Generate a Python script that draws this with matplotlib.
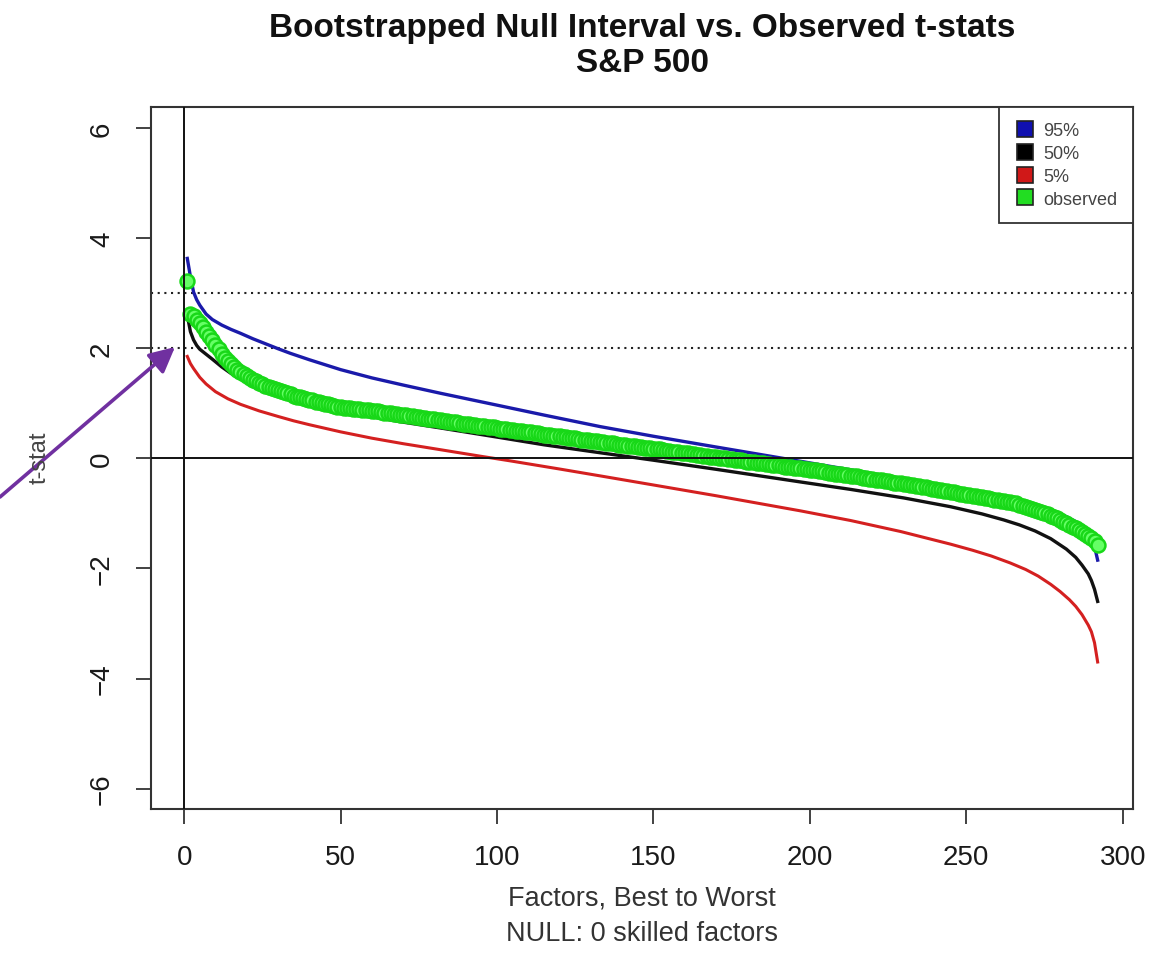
import matplotlib
matplotlib.use("Agg")
import matplotlib.pyplot as plt
from matplotlib.lines import Line2D

plt.rcParams['font.family'] = ['Liberation Sans', 'DejaVu Sans']

# quantile curves of the bootstrapped null
blue_x = [1, 2, 3, 4, 5, 7, 9, 12, 15, 18, 22, 26, 30, 34, 40, 50, 60, 70, 82, 100,
          115, 133, 150, 170, 197, 213, 230, 245, 260, 267, 272, 277, 282, 285, 287, 289,
          290, 291, 292]
blue_y = [3.63, 3.30, 3.02, 2.88, 2.78, 2.62, 2.52, 2.42, 2.34, 2.27, 2.17, 2.08, 1.99, 1.905,
          1.79, 1.61, 1.46, 1.33, 1.18, 0.965, 0.785, 0.575, 0.40, 0.205, -0.055, -0.21,
          -0.375, -0.525, -0.69, -0.77, -0.84, -0.93, -1.06, -1.15, -1.24, -1.36, -1.45,
          -1.60, -1.85]

black_x = [1, 2, 3, 4, 5, 7, 9, 12, 15, 18, 22, 26, 30, 35, 40, 50, 60, 69, 82, 100,
           115, 133, 150, 170, 197, 213, 230, 245, 255, 262, 267, 272, 277, 282, 285, 287,
           289, 290, 291, 292]
black_y = [2.60, 2.30, 2.15, 2.05, 1.98, 1.89, 1.80, 1.66, 1.54, 1.44, 1.34, 1.25, 1.17, 1.08,
           1.01, 0.88, 0.76, 0.665, 0.55, 0.385, 0.245, 0.10, -0.035, -0.20, -0.43, -0.565,
           -0.72, -0.88, -1.01, -1.12, -1.21, -1.32, -1.46, -1.65, -1.80, -1.94, -2.10,
           -2.22, -2.38, -2.60]

red_x = [1, 2, 3, 5, 7, 10, 14, 18, 24, 30, 35, 40, 50, 60, 70, 82, 95, 104, 120, 133,
         150, 170, 197, 213, 229, 245, 252, 258, 264, 269, 273, 277, 280, 283, 285, 287,
         289, 290, 291, 292]
red_y = [1.85, 1.72, 1.63, 1.47, 1.35, 1.21, 1.08, 0.98, 0.86, 0.76, 0.68, 0.61, 0.48, 0.365,
         0.265, 0.155, 0.035, -0.045, -0.195, -0.32, -0.485, -0.68, -0.955, -1.13, -1.33,
         -1.56, -1.67, -1.775, -1.90, -2.02, -2.14, -2.29, -2.42, -2.57, -2.69, -2.84,
         -3.03, -3.15, -3.35, -3.70]

# observed t-stats, factors 1..292 sorted best to worst
observed = [
    3.22, 2.62, 2.58, 2.52, 2.45, 2.38, 2.30, 2.22, 2.14, 2.06,
    1.98, 1.90, 1.83, 1.77, 1.71, 1.66, 1.61, 1.57, 1.53, 1.49,
    1.46, 1.43, 1.40, 1.37, 1.35, 1.32, 1.30, 1.28, 1.26, 1.24,
    1.22, 1.20, 1.18, 1.16, 1.14, 1.12, 1.11, 1.09, 1.08, 1.06,
    1.05, 1.03, 1.02, 1.00, 0.99, 0.98, 0.97, 0.95, 0.94, 0.93,
    0.92, 0.92, 0.91, 0.90, 0.90, 0.89, 0.88, 0.87, 0.87, 0.86,
    0.85, 0.85, 0.84, 0.83, 0.82, 0.82, 0.81, 0.80, 0.79, 0.79,
    0.78, 0.77, 0.76, 0.75, 0.75, 0.74, 0.73, 0.72, 0.71, 0.71,
    0.70, 0.69, 0.68, 0.67, 0.66, 0.66, 0.65, 0.64, 0.63, 0.62,
    0.62, 0.61, 0.60, 0.59, 0.59, 0.58, 0.57, 0.56, 0.56, 0.55,
    0.54, 0.53, 0.53, 0.52, 0.51, 0.50, 0.50, 0.49, 0.48, 0.47,
    0.47, 0.46, 0.45, 0.44, 0.43, 0.43, 0.42, 0.41, 0.40, 0.40,
    0.39, 0.38, 0.37, 0.37, 0.36, 0.35, 0.34, 0.34, 0.33, 0.32,
    0.31, 0.31, 0.30, 0.29, 0.28, 0.28, 0.27, 0.26, 0.25, 0.25,
    0.24, 0.23, 0.22, 0.22, 0.21, 0.20, 0.19, 0.19, 0.18, 0.17,
    0.16, 0.16, 0.15, 0.14, 0.13, 0.12, 0.12, 0.11, 0.10, 0.09,
    0.09, 0.08, 0.07, 0.06, 0.06, 0.05, 0.04, 0.03, 0.03, 0.02,
    0.01, 0.00, 0.00, -0.01, -0.02, -0.03, -0.03, -0.04, -0.05, -0.06,
    -0.06, -0.07, -0.08, -0.09, -0.09, -0.10, -0.11, -0.12, -0.12, -0.13,
    -0.14, -0.15, -0.15, -0.16, -0.17, -0.18, -0.18, -0.19, -0.20, -0.21,
    -0.22, -0.22, -0.23, -0.24, -0.25, -0.26, -0.27, -0.28, -0.28, -0.29,
    -0.30, -0.31, -0.32, -0.33, -0.33, -0.34, -0.35, -0.36, -0.37, -0.38,
    -0.39, -0.39, -0.40, -0.41, -0.42, -0.43, -0.44, -0.45, -0.45, -0.46,
    -0.47, -0.48, -0.49, -0.50, -0.51, -0.52, -0.53, -0.54, -0.55, -0.56,
    -0.57, -0.58, -0.59, -0.60, -0.61, -0.62, -0.63, -0.64, -0.65, -0.66,
    -0.67, -0.68, -0.69, -0.70, -0.71, -0.72, -0.73, -0.74, -0.75, -0.76,
    -0.77, -0.78, -0.79, -0.80, -0.81, -0.82, -0.84, -0.86, -0.88, -0.90,
    -0.92, -0.94, -0.96, -0.98, -1.00, -1.02, -1.04, -1.06, -1.09, -1.12,
    -1.15, -1.18, -1.21, -1.24, -1.27, -1.30, -1.33, -1.37, -1.41, -1.45,
    -1.50, -1.57,
]
obs_x = list(range(1, len(observed) + 1))

x_ticks = [0, 50, 100, 150, 200, 250, 300]
y_ticks = [-6, -4, -2, 0, 2, 4, 6]
ref_lines = [2, 3]
legend_labels = ['95%', '50%', '5%', 'observed']
legend_colors = ['#1010b0', '#000000', '#d01818', '#22dd22']

fig = plt.figure(figsize=(11.63, 9.78), dpi=100)
ax = fig.add_axes([151 / 1163, 1 - 810 / 978, (1133 - 151) / 1163, (810 - 108) / 978])

ax.plot(blue_x, blue_y, color='#1a1aaa', lw=2.4, zorder=3)
ax.plot(black_x, black_y, color='#111111', lw=2.4, zorder=3)
ax.plot(red_x, red_y, color='#d42020', lw=2.2, zorder=3)
ax.plot(obs_x, observed, ls='', marker='o', ms=10, mfc='#66ff66', mec='#18d818',
        mew=1.8, zorder=4)

ax.axhline(0, color='#111111', lw=1.4, zorder=5)
ax.axvline(0, color='#111111', lw=1.4, zorder=5)
for yv in ref_lines:
    ax.axhline(yv, color='#222222', lw=1.5, ls=(0, (1, 2.2)), zorder=2)

ax.set_xlim(-10.6, 303.3)
ax.set_ylim(-6.37, 6.38)
ax.set_xticks(x_ticks)
ax.set_yticks(y_ticks)
ax.tick_params(axis='both', direction='out', length=11, width=1.3, color='#333333',
               labelsize=20, labelcolor='#1a1a1a')
ax.tick_params(axis='x', pad=14)
ax.tick_params(axis='y', pad=15)
for lab in ax.get_yticklabels():
    lab.set_rotation(90)
    lab.set_va('center')
for sp in ax.spines.values():
    sp.set_color('#333333')
    sp.set_linewidth(1.5)

handles = [Line2D([], [], ls='', marker='s', ms=11, mfc=c, mec='#222222', mew=1.2)
           for c in legend_colors]
leg = ax.legend(handles, legend_labels, loc='upper right', borderaxespad=0,
                fancybox=False, framealpha=1, edgecolor='#333333', fontsize=13,
                handletextpad=0.5, labelspacing=0.32, borderpad=0.85, handlelength=1.1)
leg.get_frame().set_linewidth(1.3)
for t in leg.get_texts():
    t.set_color('#444444')

cx = (151 + 1133) / 2 / 1163
fig.text(cx, 1 - 29 / 978, 'Bootstrapped Null Interval vs. Observed t-stats',
         ha='center', va='center', fontsize=24, fontweight='bold', color='#111111')
fig.text(cx, 1 - 64 / 978, 'S&P 500', ha='center', va='center', fontsize=24,
         fontweight='bold', color='#111111')
fig.text(cx, 1 - 899 / 978, 'Factors, Best to Worst', ha='center', va='center',
         fontsize=19.5, color='#333333')
fig.text(cx, 1 - 934 / 978, 'NULL: 0 skilled factors', ha='center', va='center',
         fontsize=19.5, color='#333333')
fig.text(40 / 1163, 1 - 458 / 978, 't-stat', ha='center', va='center', rotation=90,
         fontsize=17, color='#444444')

ax.annotate('', xy=(175, 978 - 348), xycoords='figure pixels',
            xytext=(0, 978 - 498), textcoords='figure pixels',
            arrowprops=dict(arrowstyle='-|>,head_length=0.7,head_width=0.35',
                            color='#7030a0', lw=2.6, mutation_scale=22,
                            shrinkA=0, shrinkB=0),
            annotation_clip=False)

fig.savefig('out.png', dpi=100)
